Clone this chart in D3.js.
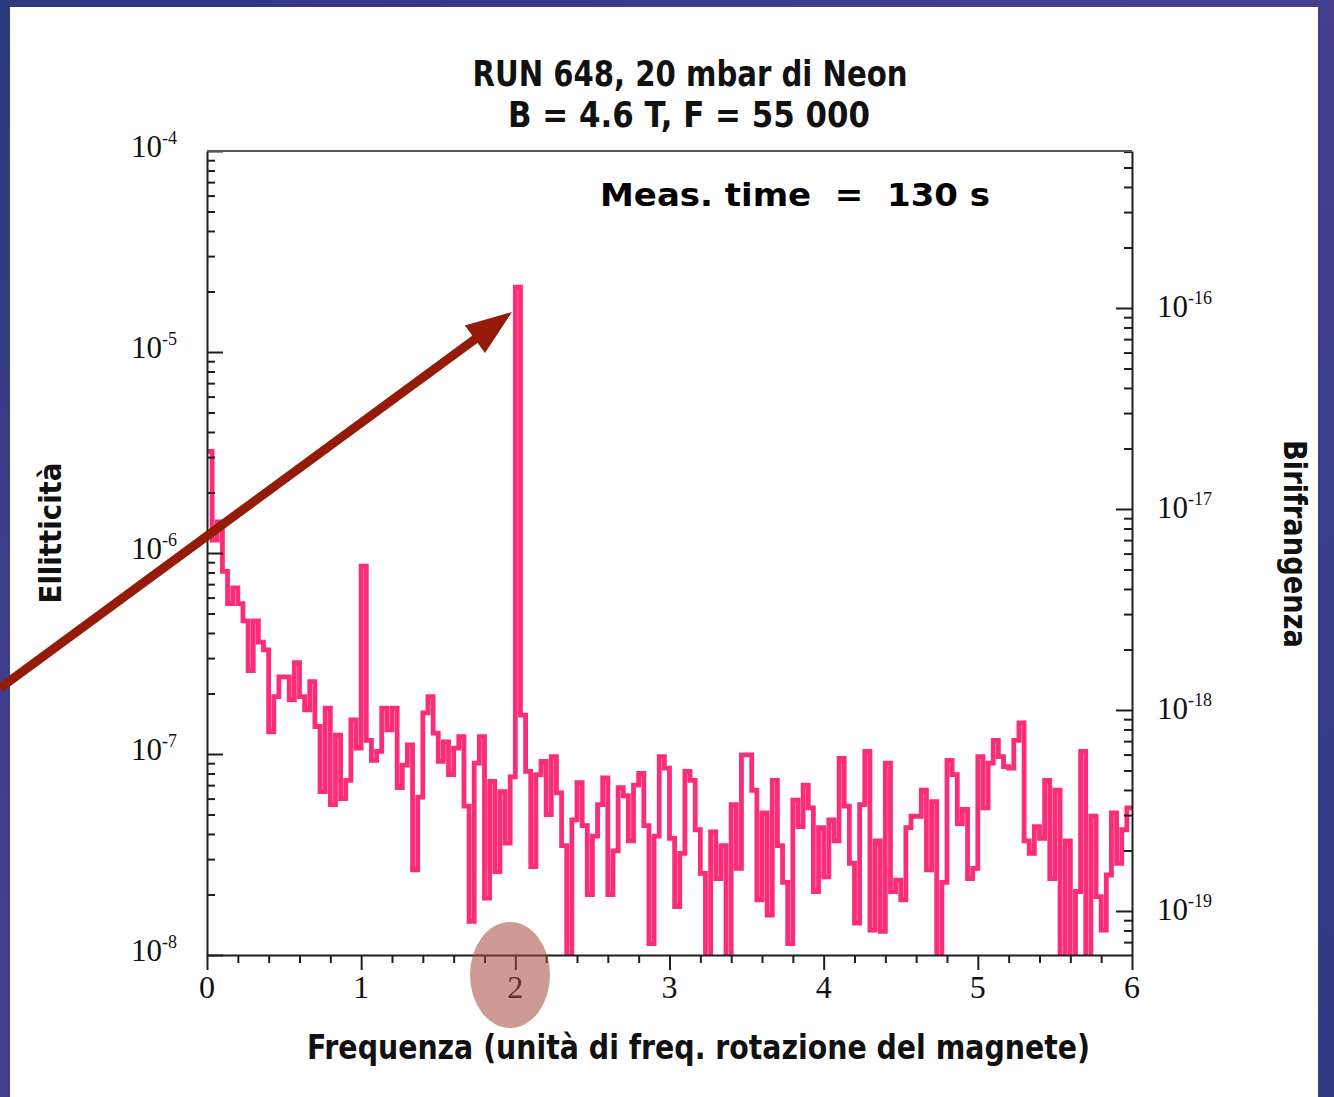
<!DOCTYPE html>
<html>
<head>
<meta charset="utf-8">
<script src="https://cdn.jsdelivr.net/npm/d3@7"></script>
<style>
  body { margin: 0; overflow: hidden; background: #35418a; }
  svg { display: block; }
</style>
</head>
<body>
<div id="chart"></div>
<script>

// bin width in units of the magnet rotation frequency
const binWidth = 1 / 30;

// ellipticity per bin, bin k starts at k * binWidth
const ellipticity = [
  3.2e-6, 1.16e-6, 1.43e-6, 8.1e-7, 5.6e-7, 6.7e-7, 5.6e-7, 4.6e-7, 2.6e-7, 4.6e-7,
  3.6e-7, 3.3e-7, 1.29e-7, 1.93e-7, 2.42e-7, 2.42e-7, 1.86e-7, 2.85e-7, 1.93e-7, 1.66e-7,
  2.29e-7, 1.37e-7, 6.5e-8, 1.69e-7, 5.6e-8, 1.24e-7, 6.0e-8, 7.4e-8, 1.48e-7, 1.07e-7,
  8.6e-7, 1.17e-7, 9.3e-8, 1.03e-7, 1.69e-7, 1.32e-7, 1.69e-7, 6.8e-8, 8.8e-8, 1.11e-7,
  2.65e-8, 6.1e-8, 1.6e-7, 1.93e-7, 1.27e-7, 9.2e-8, 1.15e-7, 7.9e-8, 1.07e-7, 1.22e-7,
  5.5e-8, 1.47e-8, 9.0e-8, 1.22e-7, 1.92e-8, 7.3e-8, 2.6e-8, 6.5e-8, 3.6e-8, 7.7e-8,
  2.1e-5, 1.56e-7, 8.2e-8, 2.75e-8, 7.9e-8, 9.2e-8, 5.0e-8, 9.7e-8, 6.4e-8, 3.5e-8,
  8e-9, 4.7e-8, 7.2e-8, 4.4e-8, 2.0e-8, 3.9e-8, 5.6e-8, 7.6e-8, 2.0e-8, 3.3e-8,
  6.8e-8, 6.2e-8, 3.7e-8, 7.0e-8, 8.0e-8, 4.4e-8, 1.14e-8, 3.9e-8, 9.7e-8, 8.5e-8,
  3.8e-8, 1.74e-8, 3.2e-8, 8.2e-8, 7.4e-8, 4.2e-8, 2.55e-8, 8e-9, 4.1e-8, 2.4e-8,
  3.5e-8, 8e-9, 5.6e-8, 2.7e-8, 9.9e-8, 9.9e-8, 6.6e-8, 1.88e-8, 5.1e-8, 1.58e-8,
  7.4e-8, 3.5e-8, 2.3e-8, 1.14e-8, 5.9e-8, 4.35e-8, 7.0e-8, 5.4e-8, 2.07e-8, 4.3e-8,
  2.45e-8, 4.7e-8, 3.7e-8, 9.5e-8, 5.5e-8, 2.86e-8, 1.44e-8, 5.6e-8, 1.03e-7, 1.33e-8,
  3.7e-8, 1.31e-8, 9.0e-8, 2.07e-8, 2.36e-8, 1.88e-8, 4.3e-8, 4.9e-8, 4.9e-8, 6.6e-8,
  2.65e-8, 5.8e-8, 8e-9, 2.3e-8, 9.3e-8, 7.9e-8, 4.5e-8, 5.3e-8, 2.4e-8, 2.7e-8,
  9.7e-8, 5.4e-8, 9.0e-8, 1.17e-7, 9.7e-8, 8.65e-8, 8.5e-8, 1.17e-7, 1.43e-7, 3.7e-8,
  3.2e-8, 4.35e-8, 3.8e-8, 7.4e-8, 2.4e-8, 6.6e-8, 8e-9, 3.7e-8, 8e-9, 2.07e-8,
  1.03e-7, 8e-9, 4.9e-8, 1.95e-8, 1.33e-8, 2.5e-8, 5.1e-8, 2.86e-8, 4.2e-8, 5.4e-8
];

const xTicks = [0, 1, 2, 3, 4, 5, 6];
const leftDecades = [-4, -5, -6, -7, -8];
const rightDecades = [-16, -17, -18, -19];
const titleLines = ["RUN 648, 20 mbar di Neon", "B = 4.6 T, F = 55 000"];
const measText = "Meas. time  =  130 s";
const xLabel = "Frequenza (unità di freq. rotazione del magnete)";
const yLabelLeft = "Ellitticità";
const yLabelRight = "Birifrangenza";

const W = 1334, H = 1097;
const plot = { left: 207, right: 1132, top: 151, bottom: 955 };
const serif = "'Liberation Serif', 'Times New Roman', serif";
const sans = "'DejaVu Sans Condensed', 'Liberation Sans Narrow', 'Liberation Sans', sans-serif";

const svg = d3.select("#chart").append("svg")
    .attr("width", W)
    .attr("height", H);

// slide background
const defs = svg.append("defs");
const grad = defs.append("linearGradient").attr("id", "bg")
    .attr("x1", "0").attr("y1", "0").attr("x2", "1").attr("y2", "1");
grad.append("stop").attr("offset", "0%").attr("stop-color", "#2b3a80");
grad.append("stop").attr("offset", "45%").attr("stop-color", "#463f90");
grad.append("stop").attr("offset", "100%").attr("stop-color", "#2f3c84");
svg.append("rect").attr("width", W).attr("height", H).attr("fill", "url(#bg)");
svg.append("rect").attr("x", 10).attr("y", 7).attr("width", 1308).attr("height", H - 7)
    .attr("fill", "#ffffff");

defs.append("clipPath").attr("id", "plotclip")
  .append("rect")
    .attr("x", plot.left).attr("y", plot.top)
    .attr("width", plot.right - plot.left).attr("height", plot.bottom - plot.top);

// scales
const x = d3.scaleLinear().domain([0, 6]).range([plot.left, plot.right]);
const y = d3.scaleLog().domain([1e-8, 1e-4]).range([plot.bottom, plot.top]);
// birefringence axis is the ellipticity times a fixed factor
const yR = d3.scaleLog().domain([6.04e-20, 6.04e-16]).range([plot.bottom, plot.top]);

// minor ticks for a log domain
function logMinor(scale) {
  const [a, b] = scale.domain();
  const out = [];
  for (let e = Math.floor(Math.log10(a)); e <= Math.ceil(Math.log10(b)); e++) {
    for (let m = 2; m <= 9; m++) {
      const v = m * Math.pow(10, e);
      if (v >= a && v <= b) out.push(v);
    }
  }
  return out;
}

// data line
const pts = ellipticity.map((v, k) => [k * binWidth, v]);
pts.push([ellipticity.length * binWidth, ellipticity[ellipticity.length - 1]]);

const line = d3.line()
    .x(d => x(d[0]))
    .y(d => y(d[1]))
    .curve(d3.curveStepAfter);

svg.append("path")
    .datum(pts)
    .attr("clip-path", "url(#plotclip)")
    .attr("fill", "none")
    .attr("stroke", "#fb2c78")
    .attr("stroke-width", 4.8)
    .attr("stroke-linejoin", "miter")
    .attr("d", line);

// axes
const axisColor = "#1e1e1e";
function styleAxis(g) {
  g.selectAll("path, line").attr("stroke", axisColor).attr("stroke-width", 2);
  g.selectAll("text").remove();
}

svg.append("g")
    .attr("transform", `translate(${plot.left},0)`)
    .call(d3.axisRight(y).tickValues(leftDecades.map(e => Math.pow(10, e))).tickSize(16).tickSizeOuter(0).tickFormat(""))
    .call(styleAxis);
svg.append("g")
    .attr("transform", `translate(${plot.left},0)`)
    .call(d3.axisRight(y).tickValues(logMinor(y)).tickSize(8).tickSizeOuter(0).tickFormat(""))
    .call(styleAxis)
    .select(".domain").remove();

svg.append("g")
    .attr("transform", `translate(${plot.right},0)`)
    .call(d3.axisLeft(yR).tickValues(rightDecades.map(e => Math.pow(10, e))).tickSize(16).tickSizeOuter(0).tickFormat(""))
    .call(styleAxis);
svg.append("g")
    .attr("transform", `translate(${plot.right},0)`)
    .call(d3.axisLeft(yR).tickValues(logMinor(yR)).tickSize(8).tickSizeOuter(0).tickFormat(""))
    .call(styleAxis)
    .select(".domain").remove();

const xMinor = d3.range(0, 30).map(i => i * 0.2).filter(v => Math.abs(v - Math.round(v)) > 1e-6);
svg.append("g")
    .attr("transform", `translate(0,${plot.bottom})`)
    .call(d3.axisBottom(x).tickValues(xTicks).tickSize(15).tickSizeOuter(0).tickFormat(""))
    .call(styleAxis);
svg.append("g")
    .attr("transform", `translate(0,${plot.bottom})`)
    .call(d3.axisBottom(x).tickValues(xMinor).tickSize(8).tickSizeOuter(0).tickFormat(""))
    .call(styleAxis)
    .select(".domain").remove();

// top frame line
svg.append("line")
    .attr("x1", plot.left).attr("x2", plot.right)
    .attr("y1", plot.top).attr("y2", plot.top)
    .attr("stroke", "#555").attr("stroke-width", 2);

// tick labels
function powerLabel(g, xPos, yPos, e) {
  const t = g.append("text")
      .attr("x", xPos).attr("y", yPos)
      .attr("font-family", serif).attr("font-size", 31).attr("fill", "#111");
  t.append("tspan").text("10");
  t.append("tspan").attr("dy", -13).attr("font-size", 18).text("-" + Math.abs(e));
}
const labels = svg.append("g");
leftDecades.forEach(e => powerLabel(labels, 131, y(Math.pow(10, e)) + 6, e));
rightDecades.forEach(e => powerLabel(labels, 1157, yR(Math.pow(10, e)) + 9, e));

labels.selectAll(".xl")
  .data(xTicks)
  .enter().append("text")
    .attr("class", "xl")
    .attr("x", d => x(d))
    .attr("y", 998)
    .attr("text-anchor", "middle")
    .attr("font-family", serif).attr("font-size", 32).attr("fill", "#111")
    .text(d => d);

// titles and axis labels
svg.selectAll(".title")
  .data(titleLines)
  .enter().append("text")
    .attr("class", "title")
    .attr("x", (d, i) => i === 0 ? 690 : 689)
    .attr("y", (d, i) => 86 + i * 41)
    .attr("text-anchor", "middle")
    .attr("font-family", sans).attr("font-weight", "bold").attr("font-size", 36)
    .attr("textLength", (d, i) => i === 0 ? 435 : 362)
    .attr("lengthAdjust", "spacingAndGlyphs")
    .attr("fill", "#111")
    .text(d => d);

svg.append("text")
    .attr("x", 600).attr("y", 206)
    .attr("font-family", "'DejaVu Sans', sans-serif").attr("font-weight", "bold").attr("font-size", 32)
    .attr("textLength", 390).attr("lengthAdjust", "spacingAndGlyphs")
    .style("white-space", "pre")
    .attr("fill", "#000")
    .text(measText);

svg.append("text")
    .attr("x", 307).attr("y", 1059)
    .attr("font-family", sans).attr("font-weight", "bold").attr("font-size", 33)
    .attr("textLength", 783).attr("lengthAdjust", "spacingAndGlyphs")
    .attr("fill", "#111")
    .text(xLabel);

svg.append("text")
    .attr("transform", "translate(61,533) rotate(-90)")
    .attr("text-anchor", "middle")
    .attr("font-family", sans).attr("font-weight", "bold").attr("font-size", 31)
    .attr("textLength", 141).attr("lengthAdjust", "spacingAndGlyphs")
    .attr("fill", "#111")
    .text(yLabelLeft);

svg.append("text")
    .attr("transform", "translate(1284,544) rotate(90)")
    .attr("text-anchor", "middle")
    .attr("font-family", sans).attr("font-weight", "bold").attr("font-size", 32)
    .attr("textLength", 208).attr("lengthAdjust", "spacingAndGlyphs")
    .attr("fill", "#111")
    .text(yLabelRight);

// annotation: arrow pointing at the 2-omega peak
const arrowColor = "#951a08";
const tip = [512, 312], tail = [0, 688];
const dx = tip[0] - tail[0], dy = tip[1] - tail[1];
const len = Math.hypot(dx, dy);
const ux = dx / len, uy = dy / len;
const headLen = 46, headHalf = 17;
const base = [tip[0] - ux * headLen, tip[1] - uy * headLen];
svg.append("line")
    .attr("x1", tail[0]).attr("y1", tail[1])
    .attr("x2", base[0] + ux * 4).attr("y2", base[1] + uy * 4)
    .attr("stroke", arrowColor).attr("stroke-width", 9);
svg.append("polygon")
    .attr("points", [
      tip,
      [base[0] - uy * headHalf, base[1] + ux * headHalf],
      [base[0] + uy * headHalf, base[1] - ux * headHalf]
    ].map(p => p.join(",")).join(" "))
    .attr("fill", arrowColor);

// highlight around the "2" label
svg.append("ellipse")
    .attr("cx", 510).attr("cy", 975)
    .attr("rx", 40).attr("ry", 53)
    .attr("fill", "#a8473a")
    .attr("opacity", 0.55);

</script>
</body>
</html>
